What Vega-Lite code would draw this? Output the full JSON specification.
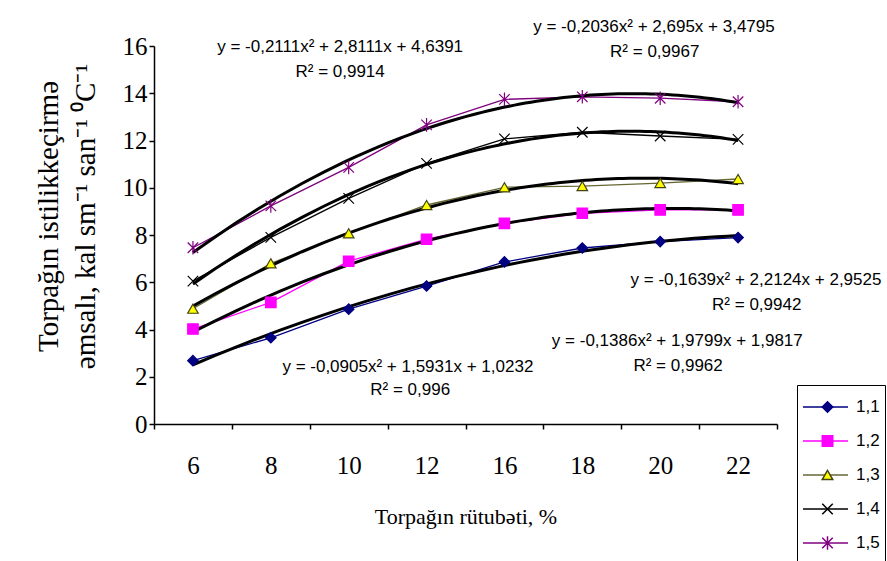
{
  "$schema": "https://vega.github.io/schema/vega-lite/v6.json",
  "width": 623,
  "height": 378,
  "autosize": {"type": "none"},
  "padding": {"left": 154, "top": 46, "right": 110, "bottom": 137},
  "background": "white",
  "config": {
    "view": {"stroke": null},
    "axis": {
      "grid": false,
      "domainColor": "black",
      "tickColor": "black",
      "labelColor": "black",
      "titleColor": "black",
      "labelFont": "Liberation Serif",
      "titleFont": "Liberation Serif",
      "titleFontWeight": "normal",
      "domainWidth": 1.5,
      "tickWidth": 1.5
    }
  },
  "datasets": {
    "series": [
      {"s": "1,1", "w": 6, "i": 1, "v": 2.68},
      {"s": "1,1", "w": 8, "i": 2, "v": 3.65},
      {"s": "1,1", "w": 10, "i": 3, "v": 4.86},
      {"s": "1,1", "w": 12, "i": 4, "v": 5.84},
      {"s": "1,1", "w": 16, "i": 5, "v": 6.86},
      {"s": "1,1", "w": 18, "i": 6, "v": 7.45},
      {"s": "1,1", "w": 20, "i": 7, "v": 7.72},
      {"s": "1,1", "w": 22, "i": 8, "v": 7.89},
      {"s": "1,2", "w": 6, "i": 1, "v": 4.02},
      {"s": "1,2", "w": 8, "i": 2, "v": 5.15},
      {"s": "1,2", "w": 10, "i": 3, "v": 6.89},
      {"s": "1,2", "w": 12, "i": 4, "v": 7.82},
      {"s": "1,2", "w": 16, "i": 5, "v": 8.49},
      {"s": "1,2", "w": 18, "i": 6, "v": 8.92},
      {"s": "1,2", "w": 20, "i": 7, "v": 9.06},
      {"s": "1,2", "w": 22, "i": 8, "v": 9.06},
      {"s": "1,3", "w": 6, "i": 1, "v": 4.88},
      {"s": "1,3", "w": 8, "i": 2, "v": 6.8},
      {"s": "1,3", "w": 10, "i": 3, "v": 8.07},
      {"s": "1,3", "w": 12, "i": 4, "v": 9.27},
      {"s": "1,3", "w": 16, "i": 5, "v": 10.02},
      {"s": "1,3", "w": 18, "i": 6, "v": 10.07},
      {"s": "1,3", "w": 20, "i": 7, "v": 10.2},
      {"s": "1,3", "w": 22, "i": 8, "v": 10.37},
      {"s": "1,4", "w": 6, "i": 1, "v": 6.05},
      {"s": "1,4", "w": 8, "i": 2, "v": 7.9},
      {"s": "1,4", "w": 10, "i": 3, "v": 9.55},
      {"s": "1,4", "w": 12, "i": 4, "v": 11.03},
      {"s": "1,4", "w": 16, "i": 5, "v": 12.07},
      {"s": "1,4", "w": 18, "i": 6, "v": 12.35},
      {"s": "1,4", "w": 20, "i": 7, "v": 12.19},
      {"s": "1,4", "w": 22, "i": 8, "v": 12.05},
      {"s": "1,5", "w": 6, "i": 1, "v": 7.46},
      {"s": "1,5", "w": 8, "i": 2, "v": 9.23},
      {"s": "1,5", "w": 10, "i": 3, "v": 10.86},
      {"s": "1,5", "w": 12, "i": 4, "v": 12.66},
      {"s": "1,5", "w": 16, "i": 5, "v": 13.74},
      {"s": "1,5", "w": 18, "i": 6, "v": 13.85},
      {"s": "1,5", "w": 20, "i": 7, "v": 13.79},
      {"s": "1,5", "w": 22, "i": 8, "v": 13.64}
    ],
    "notes": [
      {"t": "y = -0,2111x² + 2,8111x + 4,6391", "i": 2.89, "v": 15.96},
      {"t": "R² = 0,9914", "i": 2.89, "v": 14.9},
      {"t": "y = -0,2036x² + 2,695x + 3,4795", "i": 6.92, "v": 16.8},
      {"t": "R² = 0,9967", "i": 6.93, "v": 15.75},
      {"t": "y = -0,1639x² + 2,2124x + 2,9525", "i": 8.23, "v": 6.1},
      {"t": "R² = 0,9942", "i": 8.24, "v": 5.04},
      {"t": "y = -0,1386x² + 1,9799x + 1,9817", "i": 7.22, "v": 3.51},
      {"t": "R² = 0,9962", "i": 7.23, "v": 2.46},
      {"t": "y = -0,0905x² + 1,5931x + 1,0232", "i": 3.76, "v": 2.41},
      {"t": "R² = 0,996", "i": 3.79, "v": 1.44}
    ]
  },
  "data": {"name": "series"},
  "encoding": {
    "y": {
      "field": "v",
      "type": "quantitative",
      "scale": {"domain": [0, 16], "nice": false},
      "title": ["Torpağın istilikkeçirmə", "əmsalı, kal sm⁻¹ san⁻¹ ⁰C⁻¹"],
      "axis": {
        "values": [0, 2, 4, 6, 8, 10, 12, 14, 16],
        "tickSize": 5,
        "labelFontSize": 25,
        "labelPadding": 2,
        "titleFontSize": 29,
        "titleLineHeight": 37,
        "titlePadding": 22,
        "titleY": 170
      }
    }
  },
  "layer": [
    {
      "mark": {"type": "line", "strokeWidth": 1.3},
      "encoding": {
        "x": {
          "field": "w",
          "type": "ordinal",
          "scale": {"type": "band", "paddingInner": 0, "paddingOuter": 0},
          "title": "Torpağın rütubəti, %",
          "axis": {
            "tickBand": "extent",
            "labelAngle": 0,
            "labelFontSize": 25,
            "labelPadding": 24,
            "tickSize": 5,
            "titleFontSize": 22,
            "titlePadding": 28
          }
        },
        "color": {
          "field": "s",
          "type": "nominal",
          "scale": {"domain": ["1,1", "1,2", "1,3", "1,4", "1,5"], "range": ["#000080", "#FF00FF", "#666633", "#000000", "#800080"]},
          "legend": {
            "title": null,
            "orient": "none",
            "legendX": 643,
            "legendY": 339,
            "padding": 5,
            "clipHeight": 34,
            "rowPadding": 0,
            "symbolType": "stroke",
            "symbolSize": 2025,
            "symbolStrokeWidth": 1.6,
            "labelExpr": "''"
          }
        }
      }
    },
    {
      "transform": [
        {"regression": "v", "on": "i", "groupby": ["s"], "method": "poly", "order": 2, "extent": [1, 8]}
      ],
      "mark": {"type": "line", "color": "black", "strokeWidth": 3},
      "encoding": {
        "x": {"field": "i", "type": "quantitative", "scale": {"domain": [0.5, 8.5], "nice": false, "zero": false}, "axis": null},
        "detail": {"field": "s", "type": "nominal"}
      }
    },
    {
      "data": {"name": "notes"},
      "mark": {"type": "text", "font": "Liberation Sans", "fontSize": 17, "color": "black", "baseline": "middle", "align": "center"},
      "encoding": {
        "x": {"field": "i", "type": "quantitative", "scale": {"domain": [0.5, 8.5], "nice": false, "zero": false}, "axis": null},
        "text": {"field": "t", "type": "nominal"}
      }
    },
    {
      "mark": {"type": "point", "opacity": 1, "strokeWidth": 1.2, "size": 110},
      "encoding": {
        "x": {
          "field": "w",
          "type": "ordinal",
          "scale": {"type": "band", "paddingInner": 0, "paddingOuter": 0},
          "axis": null
        },
        "shape": {
          "field": "s",
          "type": "nominal",
          "scale": {"range": ["diamond", "square", "triangle-up", "M-1,-1L1,1M1,-1L-1,1", "M-1,-1L1,1M1,-1L-1,1M0,-1.3L0,1.3"]},
          "legend": {
            "title": null,
            "orient": "none",
            "legendX": 643,
            "legendY": 339,
            "padding": 5,
            "strokeColor": "black",
            "clipHeight": 34,
            "rowPadding": 0,
            "symbolOffset": 17,
            "symbolSize": 110,
            "labelFont": "Liberation Sans",
            "labelFontSize": 17,
            "labelColor": "black",
            "labelOffset": 20
          }
        },
        "fill": {
          "field": "s",
          "type": "nominal",
          "scale": {"range": ["#000080", "#FF00FF", "#FFFF00", "#000000", "#800080"]},
          "legend": {
            "title": null,
            "orient": "none",
            "legendX": 643,
            "legendY": 339,
            "padding": 5,
            "strokeColor": "black",
            "clipHeight": 34,
            "rowPadding": 0,
            "symbolOffset": 17,
            "symbolSize": 110,
            "labelFont": "Liberation Sans",
            "labelFontSize": 17,
            "labelColor": "black",
            "labelOffset": 20
          }
        },
        "stroke": {
          "field": "s",
          "type": "nominal",
          "scale": {"range": ["#000080", "#FF00FF", "#444411", "#000000", "#800080"]},
          "legend": {
            "title": null,
            "orient": "none",
            "legendX": 643,
            "legendY": 339,
            "padding": 5,
            "strokeColor": "black",
            "clipHeight": 34,
            "rowPadding": 0,
            "symbolOffset": 17,
            "symbolSize": 110,
            "labelFont": "Liberation Sans",
            "labelFontSize": 17,
            "labelColor": "black",
            "labelOffset": 20
          }
        }
      }
    }
  ],
  "resolve": {"scale": {"x": "independent"}}
}
